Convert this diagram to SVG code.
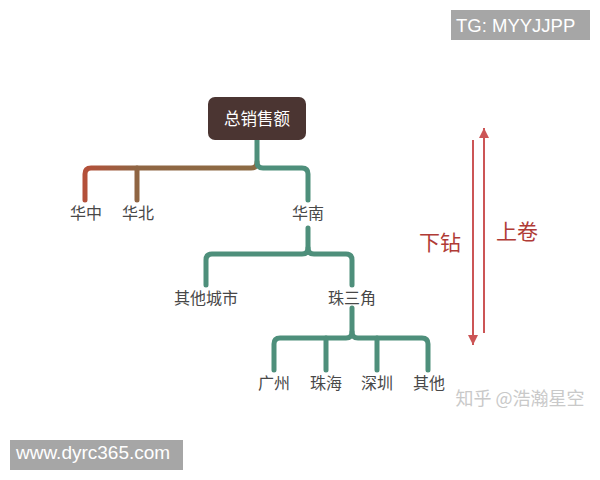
<svg xmlns="http://www.w3.org/2000/svg" width="600" height="480" viewBox="0 0 600 480">
<defs>
<linearGradient id="gb" gradientUnits="userSpaceOnUse" x1="85" y1="0" x2="257" y2="0">
<stop offset="0" stop-color="#b4503a"/>
<stop offset="0.3" stop-color="#8f6543"/>
<stop offset="1" stop-color="#8c6b44"/>
</linearGradient>
<marker id="ah" viewBox="0 0 10 10" refX="10" refY="5" markerWidth="10" markerHeight="10" markerUnits="userSpaceOnUse" orient="auto">
<path d="M0,0 L10,5 L0,10 Z" fill="#cc5556"/>
</marker>
<style>
.g{fill:none;stroke:#4e8f7b;stroke-width:5;stroke-linecap:round;stroke-linejoin:round}
.b{fill:none;stroke:url(#gb);stroke-width:5;stroke-linecap:round;stroke-linejoin:round}
.t{font-family:"Noto Sans CJK SC","Noto Sans",sans-serif;font-size:16px;fill:#484848;text-anchor:middle}
.r{font-family:"Noto Sans CJK SC","Noto Sans",sans-serif;font-size:21px;fill:#b03b36;text-anchor:middle}
.a{stroke:#cc5556;stroke-width:2;fill:none}
.wm{font-family:"Liberation Sans",Arial,sans-serif;fill:#fff}
</style>
</defs>
<rect width="600" height="480" fill="#fff"/>
<g id="connectors">
<path class="b" d="M257,162 Q257,168 251,168 H91 Q85,168 85,174 V200"/>
<path class="b" d="M137,168 V200"/>
<path class="g" d="M257,140 V162 Q257,168 263,168 H302 Q308,168 308,174 V200"/>
<path class="g" d="M308,228 V248 Q308,254 302,254 H212 Q206,254 206,260 V285"/>
<path class="g" d="M308,248 Q308,254 314,254 H346 Q352,254 352,260 V285"/>
<path class="g" d="M352,308 V332 Q352,338 346,338 H280 Q274,338 274,344 V370"/>
<path class="g" d="M352,332 Q352,338 358,338 H422 Q428,338 428,344 V370"/>
<path class="g" d="M326,338 V370"/>
<path class="g" d="M377,338 V370"/>
<line class="a" x1="473" y1="140" x2="473" y2="345" marker-end="url(#ah)"/>
<line class="a" x1="484" y1="333" x2="484" y2="128" marker-end="url(#ah)"/>
</g>
<g id="root">
<rect x="208" y="97" width="98" height="43" rx="7" fill="#4b3532"/>
<text x="257" y="125" class="t" style="fill:#fff;font-size:16.5px">总销售额</text>
</g>
<g id="n-huazhong"><text x="86" y="219" class="t">华中</text></g>
<g id="n-huabei"><text x="138" y="219" class="t">华北</text></g>
<g id="n-huanan"><text x="308" y="219" class="t">华南</text></g>
<g id="n-qitachengshi"><text x="206" y="304" class="t">其他城市</text></g>
<g id="n-zhusanjiao"><text x="352" y="304" class="t">珠三角</text></g>
<g id="n-guangzhou"><text x="274" y="389" class="t">广州</text></g>
<g id="n-zhuhai"><text x="326" y="389" class="t">珠海</text></g>
<g id="n-shenzhen"><text x="377" y="389" class="t">深圳</text></g>
<g id="n-qita"><text x="429" y="389" class="t">其他</text></g>
<g id="labels">
<text x="440" y="250" class="r">下钻</text>
<text x="517" y="239" class="r">上卷</text>
</g>
<g id="watermarks">
<rect x="451" y="10" width="139" height="30" fill="#a6a6a6"/>
<text x="456" y="32" class="wm" font-size="18.5">TG: MYYJJPP</text>
<rect x="10" y="440" width="173" height="30" fill="#a6a6a6"/>
<text x="16" y="459" class="wm" font-size="19">www.dyrc365.com</text>
<text x="520" y="405" style="font-family:'Noto Sans CJK SC',sans-serif;font-size:18px;fill:#c9c9c9;text-anchor:middle">知乎 @浩瀚星空</text>
</g>
</svg>
